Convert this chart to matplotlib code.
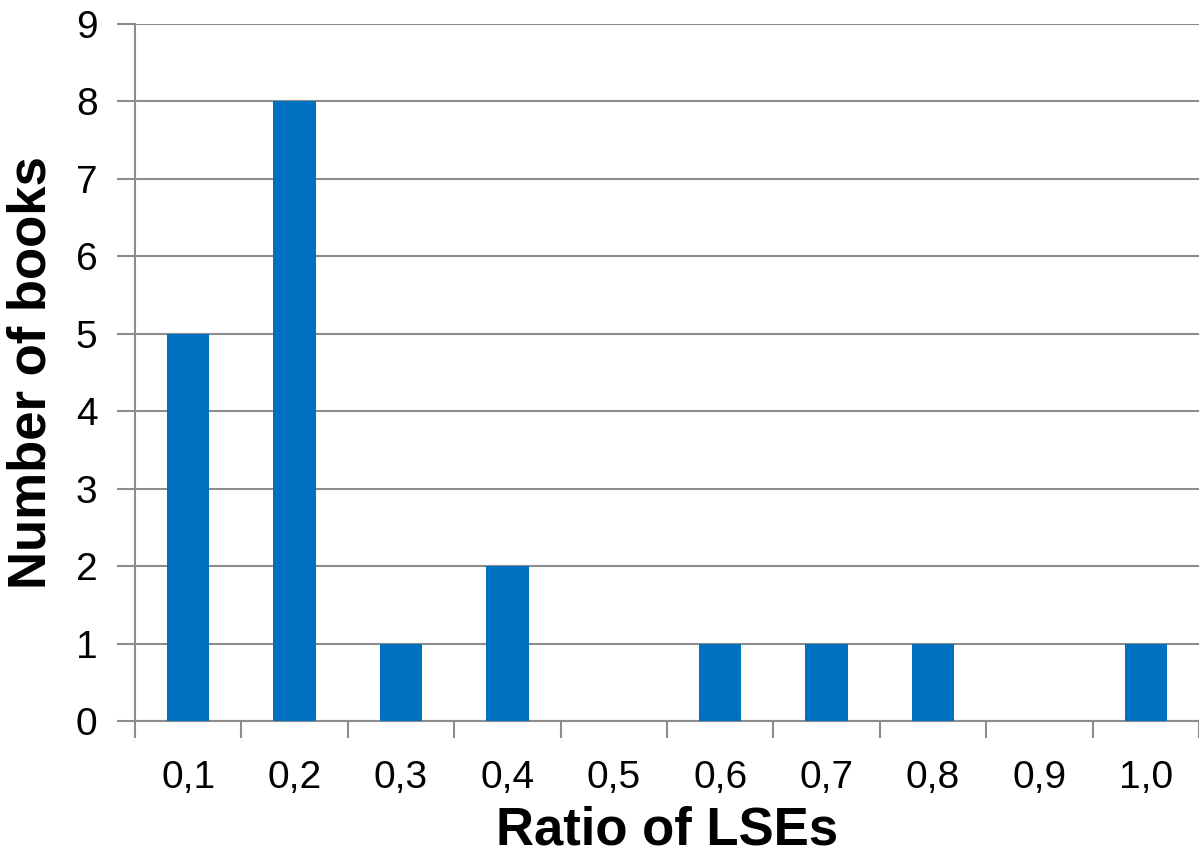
import matplotlib
matplotlib.use("Agg")
import matplotlib.pyplot as plt
import numpy as np

# Histogram of LSE ratio per book
ratio_labels = ["0,1", "0,2", "0,3", "0,4", "0,5", "0,6", "0,7", "0,8", "0,9", "1,0"]
book_counts = [5, 8, 1, 2, 0, 1, 1, 1, 0, 1]

plt.rcParams["font.family"] = ["Liberation Sans", "DejaVu Sans"]

fig = plt.figure(figsize=(11.99, 8.58), dpi=100)
ax = fig.add_axes([0.1126, 0.1597, 0.8874, 0.8123])

x = np.arange(len(ratio_labels))
ax.bar(x, book_counts, width=0.4, color="#0070C0", zorder=3)

ax.set_xlim(-0.5, len(ratio_labels) - 0.5)
ax.set_ylim(0, 9)
ax.set_yticks(range(0, 10))
ax.grid(axis="y", color="#8c8c8c", linewidth=1.5, zorder=0)

# category labels centered under bars, tick marks on the boundaries
ax.set_xticks(x)
ax.set_xticklabels(ratio_labels, fontsize=28)
ax.tick_params(axis="x", length=0, pad=28)
ax.set_xticks(np.arange(-0.5, len(ratio_labels)), minor=True)
ax.tick_params(axis="x", which="minor", length=12, width=1.5, color="#8c8c8c")
ax.tick_params(axis="y", labelsize=28, length=13, width=1.5, color="#8c8c8c", pad=14)

for side in ["top", "right"]:
    ax.spines[side].set_visible(False)
for side in ["left", "bottom"]:
    ax.spines[side].set_color("#8c8c8c")
    ax.spines[side].set_linewidth(1.5)

ax.set_xlabel("Ratio of LSEs", fontsize=38, fontweight="bold", labelpad=7)
ax.set_ylabel("Number of books", fontsize=38, fontweight="bold", labelpad=14)

fig.savefig("out.png", dpi=100)
